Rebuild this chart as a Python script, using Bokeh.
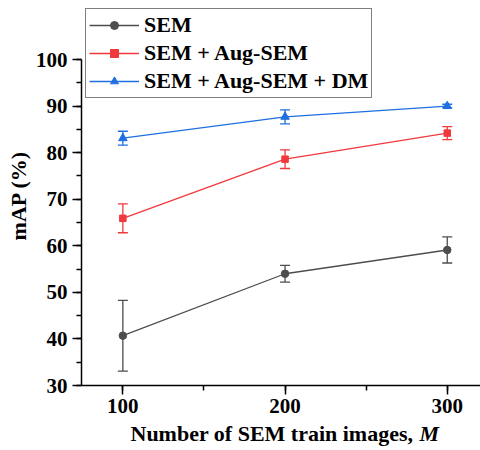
from bokeh.plotting import figure
from bokeh.layouts import column
from bokeh.models import (ColumnDataSource, Whisker, TeeHead, Legend, LegendItem,
                          SingleIntervalTicker, Range1d, Label)
from bokeh.embed import file_html
from bokeh.resources import INLINE

# data
images = [100, 200, 300]
sem = [40.7, 54.0, 59.1]
sem_err = [7.6, 1.8, 2.8]
aug = [65.9, 78.6, 84.2]
aug_err = [3.1, 2.0, 1.4]
dm = [83.1, 87.7, 90.0]
dm_err = [1.5, 1.5, 0.4]
labels = ["SEM", "SEM + Aug-SEM", "SEM + Aug-SEM + DM"]
colors = ["#4d4d4d", "#f0393c", "#1f6fe0"]
x_title = "Number of SEM train images, "
x_title_var = "M"
y_title = "mAP (%)"

FONT = "Liberation Serif"

p = figure(width=480, height=420, output_backend="svg", toolbar_location=None,
           x_range=Range1d(74.5, 320.5), y_range=Range1d(30, 111.6),
           min_border_left=81, min_border_right=0, min_border_top=5, min_border_bottom=35)
p.outline_line_color = None
p.grid.grid_line_color = None
p.background_fill_color = "white"
p.border_fill_color = "white"

series = [(sem, sem_err, "circle", 7.5), (aug, aug_err, "square", 6.5), (dm, dm_err, "triangle", 8.5)]
items = []
for (vals, errs, marker, size), lab, col in zip(series, labels, colors):
    src = ColumnDataSource(dict(x=images, y=vals,
                                lo=[v - e for v, e in zip(vals, errs)],
                                hi=[v + e for v, e in zip(vals, errs)]))
    w = Whisker(source=src, base="x", lower="lo", upper="hi",
                line_color=col, line_width=1.3,
                lower_head=TeeHead(size=10, line_color=col, line_width=1.3),
                upper_head=TeeHead(size=10, line_color=col, line_width=1.3))
    p.add_layout(w)
    r1 = p.line("x", "y", source=src, line_color=col, line_width=1.3)
    r2 = p.scatter("x", "y", source=src, marker=marker, size=size,
                   fill_color=col, line_color=col)
    items.append(LegendItem(label=lab, renderers=[r1, r2]))

legend = Legend(items=items, location=(4, 287), border_line_color="black",
                border_line_width=1, background_fill_alpha=1,
                label_text_font=FONT, label_text_font_style="bold",
                label_text_font_size="22px", label_text_color="black",
                glyph_width=50, glyph_height=20,
                label_standoff=5, spacing=2, padding=3, margin=0,
                label_height=20)
p.add_layout(legend)

for ax in (p.xaxis[0], p.yaxis[0]):
    ax.axis_line_width = 1.5
    ax.axis_line_color = "black"
    ax.major_tick_line_width = 1.5
    ax.minor_tick_line_width = 1.5
    ax.major_tick_line_color = "black"
    ax.minor_tick_line_color = "black"
    ax.major_tick_out = 9
    ax.major_tick_in = 0
    ax.minor_tick_out = 5
    ax.minor_tick_in = 0
    ax.major_label_text_font = FONT
    ax.major_label_text_font_style = "bold"
    ax.major_label_text_font_size = "21px"
    ax.major_label_text_color = "black"
    ax.axis_label_text_font = FONT
    ax.axis_label_text_font_style = "bold"
    ax.axis_label_text_font_size = "22px"
    ax.axis_label_text_color = "black"

p.xaxis.ticker = SingleIntervalTicker(interval=100, num_minor_ticks=2)
p.yaxis.ticker = SingleIntervalTicker(interval=10, num_minor_ticks=2)
p.yaxis.bounds = (30, 100)
p.yaxis.axis_label = y_title
p.yaxis.major_label_standoff = 5
p.xaxis.major_label_standoff = 4
p.yaxis.axis_label_standoff = 2

# x-axis title (mixed bold / bold-italic) in a strip below the plot
p2 = figure(width=480, height=30, output_backend="svg", toolbar_location=None,
            x_axis_type=None, y_axis_type=None,
            x_range=Range1d(0, 480), y_range=Range1d(0, 30),
            min_border_left=0, min_border_right=0, min_border_top=0, min_border_bottom=0)
p2.grid.grid_line_color = None
p2.outline_line_color = None
p2.add_layout(Label(x=49, y=17, x_units="screen", y_units="screen",
                    text=x_title, text_font=FONT, text_baseline="middle",
                    text_font_style="bold", text_font_size="22px", text_color="black"))
p2.add_layout(Label(x=338, y=17, x_units="screen", y_units="screen",
                    text=x_title_var, text_font=FONT, text_baseline="middle",
                    text_font_style="bold italic", text_font_size="22px", text_color="black"))

layout = column(p, p2, spacing=0)
open("out.html", "w").write(file_html(layout, INLINE))
